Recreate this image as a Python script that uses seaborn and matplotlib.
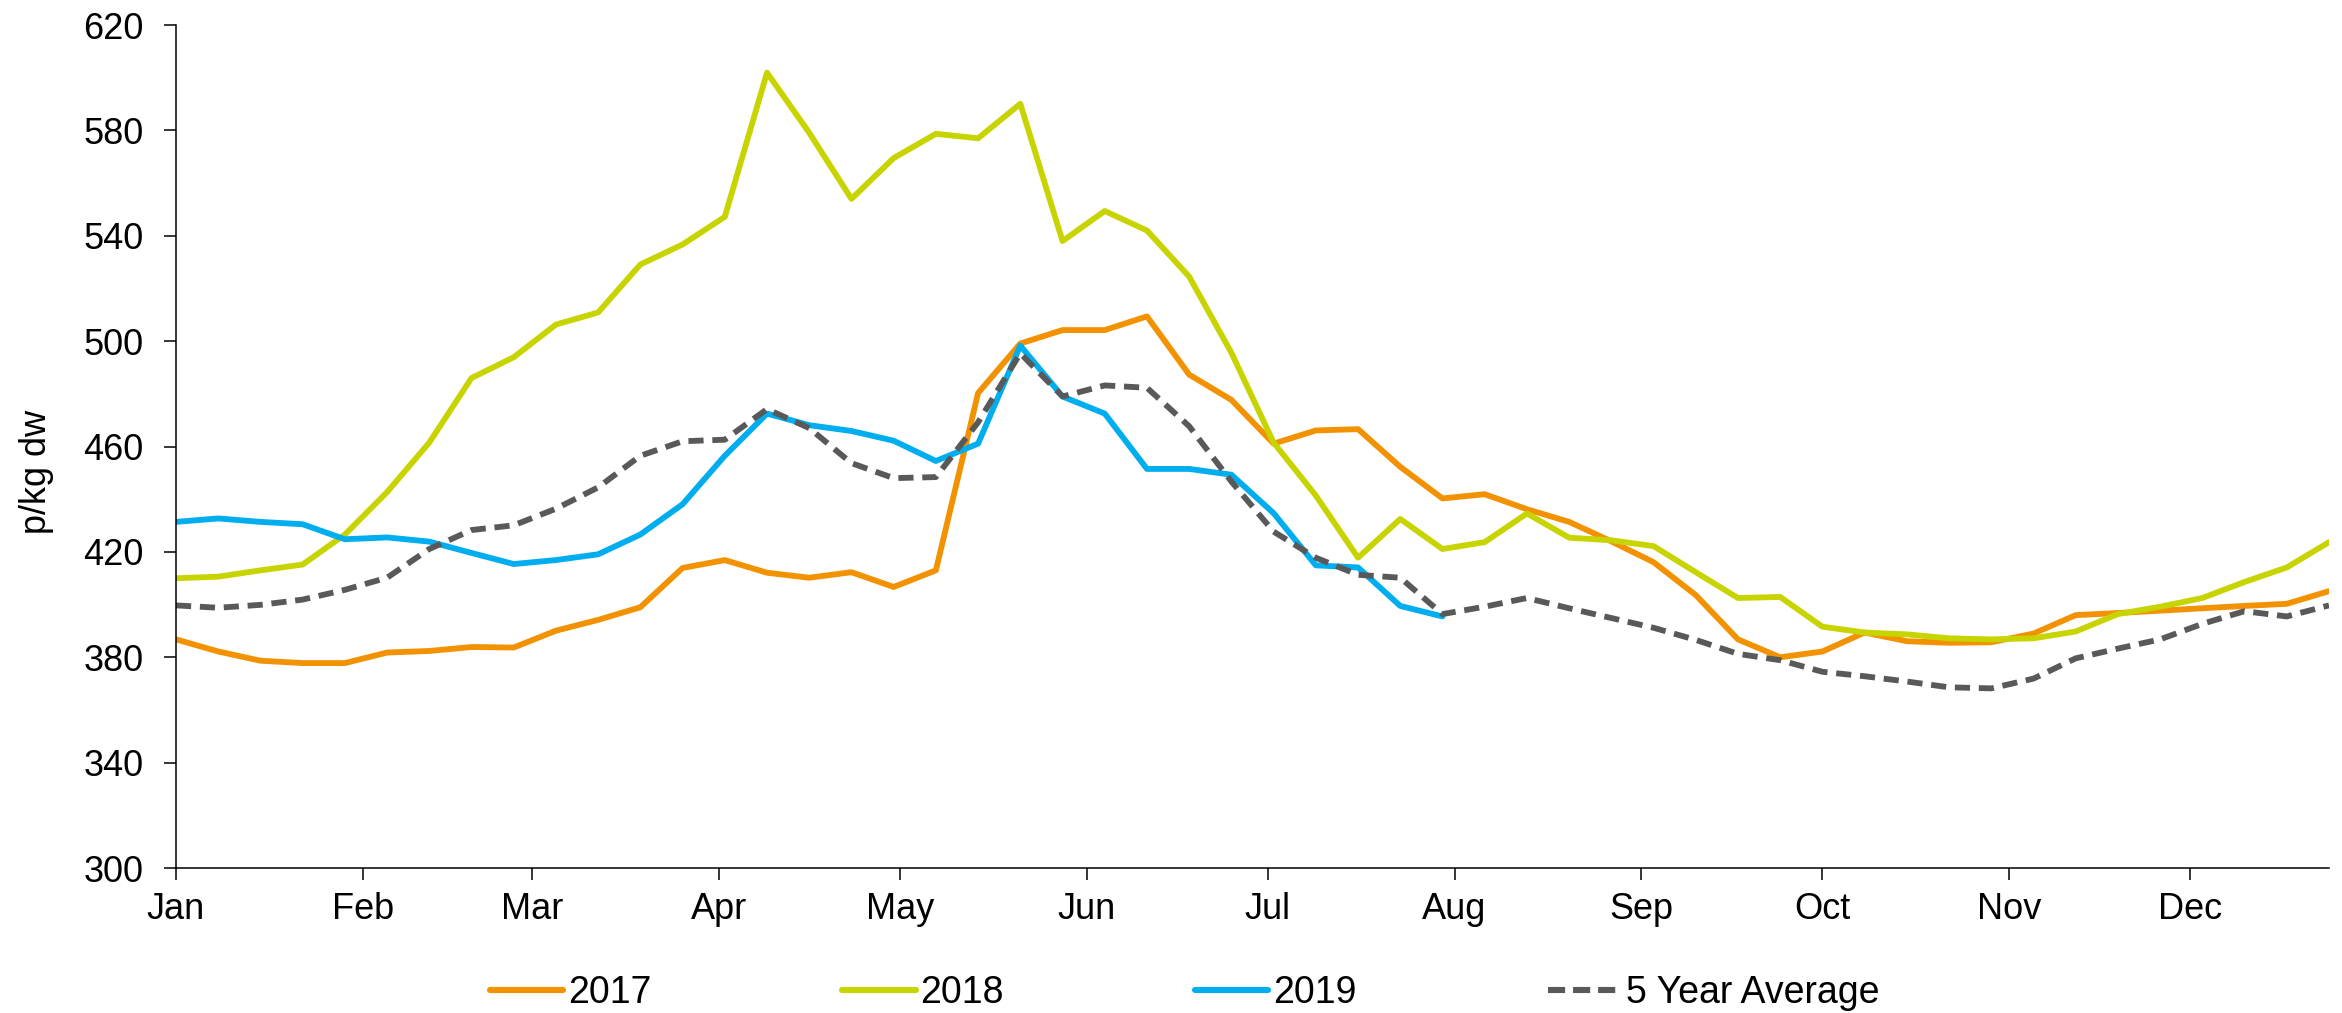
import numpy as np
import pandas as pd
import seaborn as sns
import matplotlib.pyplot as plt

# ── Data (weekly prices, p/kg dw) ─────────────────────
p2017 = [386.8, 382.2, 378.7, 377.8, 377.8, 381.8, 382.4, 383.9, 383.7, 390.1,
         394.2, 399.0, 413.9, 416.9, 412.1, 410.2, 412.3, 406.7, 413.0, 480.3,
         499.1, 504.2, 504.2, 509.4, 487.3, 477.7, 461.1, 466.1, 466.6, 452.3,
         440.3, 441.9, 436.2, 431.4, 424.0, 416.1, 403.6, 386.8, 380.0, 382.2,
         389.4, 386.1, 385.5, 385.7, 389.0, 396.0, 396.8, 397.7, 398.6, 399.5,
         400.3, 405.1]
p2018 = [410.0, 410.6, 413.0, 415.2, 426.6, 442.7, 461.5, 486.0, 493.9, 506.3,
         510.9, 529.1, 536.7, 547.2, 601.9, 579.1, 554.0, 569.5, 578.7, 577.0,
         590.1, 538.0, 549.4, 542.0, 524.5, 495.6, 461.5, 441.4, 417.8, 432.5,
         421.1, 423.7, 434.6, 425.4, 424.4, 422.2, 412.3, 402.5, 402.9, 391.6,
         389.4, 388.7, 387.2, 386.8, 387.2, 389.8, 396.4, 399.2, 402.5, 408.6,
         414.1, 423.7]
p2019 = [431.4, 432.7, 431.4, 430.5, 424.8, 425.5, 423.9, 419.6, 415.4, 416.9,
         419.1, 426.6, 438.1, 456.5, 472.5, 468.1, 465.9, 462.2, 454.5, 461.1,
         498.3, 479.0, 472.5, 451.5, 451.5, 449.3, 434.7, 414.9, 414.1, 399.5,
         395.5]
avg5 = [399.7, 398.8, 399.9, 401.9, 405.6, 410.2, 421.1, 428.3, 430.1, 436.4,
        444.5, 456.5, 462.0, 462.6, 474.2, 467.0, 453.7, 448.0, 448.4, 469.2,
        495.4, 479.0, 483.2, 482.3, 467.7, 446.7, 427.7, 417.8, 411.3, 410.2,
        396.4, 399.2, 402.5, 398.6, 394.9, 391.2, 386.6, 381.3, 378.9, 374.5,
        372.8, 370.8, 368.6, 368.2, 371.9, 379.6, 383.3, 386.8, 392.7, 397.5,
        395.5, 399.7]

months = ["Jan", "Feb", "Mar", "Apr", "May", "Jun",
          "Jul", "Aug", "Sep", "Oct", "Nov", "Dec"]
month_start = [0, 31, 59, 90, 120, 151, 181, 212, 243, 273, 304, 334]

series = {"2017": p2017, "2018": p2018, "2019": p2019, "5 Year Average": avg5}
colors = {"2017": "#F39200", "2018": "#C8D400", "2019": "#00AEEF",
          "5 Year Average": "#595959"}
dashes = {"2017": "", "2018": "", "2019": "", "5 Year Average": (2.6, 1.5)}

rows = []
for name, vals in series.items():
    for i, v in enumerate(vals):
        rows.append({"day": i * 7, "price": v, "series": name})
df = pd.DataFrame(rows)

# ── Plot ─────────────────────────────────────────────
sns.set_style("ticks")
plt.rcParams["font.family"] = ["Liberation Sans", "DejaVu Sans"]
plt.rcParams["text.color"] = "black"
plt.rcParams["xtick.color"] = "black"
plt.rcParams["ytick.color"] = "black"

fig = plt.figure(figsize=(23.42, 10.13), dpi=100)
ax = fig.add_axes([0.07515, 0.1431, 0.9193, 0.8322])

sns.lineplot(data=df, x="day", y="price", hue="series", style="series",
             palette=colors, dashes=dashes, linewidth=4.2, ax=ax, legend=False)

ax.set_xlim(0, 357)
ax.set_ylim(300, 620)
ax.set_yticks(np.arange(300, 621, 40))
ax.set_xticks(month_start)
ax.set_xticklabels(months)
ax.set_xlabel("")
ax.set_ylabel("")
fig.text(36 / 2342, 1 - 472 / 1013, "p/kg dw", rotation=90, fontsize=26,
         ha="center", va="center")

ax.tick_params(axis="both", labelsize=26, length=8.5, width=1.1,
               direction="out", labelcolor="black")
ax.tick_params(axis="x", pad=9)
ax.tick_params(axis="y", pad=15)
for side in ["top", "right"]:
    ax.spines[side].set_visible(False)
for side in ["left", "bottom"]:
    ax.spines[side].set_color("black")
    ax.spines[side].set_linewidth(1.1)

handles = []
for n in series:
    h = plt.Line2D([], [], color=colors[n], lw=4.4, solid_capstyle="round")
    if n == "5 Year Average":
        h.set_dashes((2.8, 1.3))
    handles.append(h)
fig.legend(handles, list(series.keys()), loc="center",
           bbox_to_anchor=(0.5058, 0.0197), ncol=4, frameon=False, fontsize=27,
           handlelength=1.95, handletextpad=0.13, columnspacing=5.1,
           borderpad=0.1)

plt.savefig("out.png", dpi=100)
